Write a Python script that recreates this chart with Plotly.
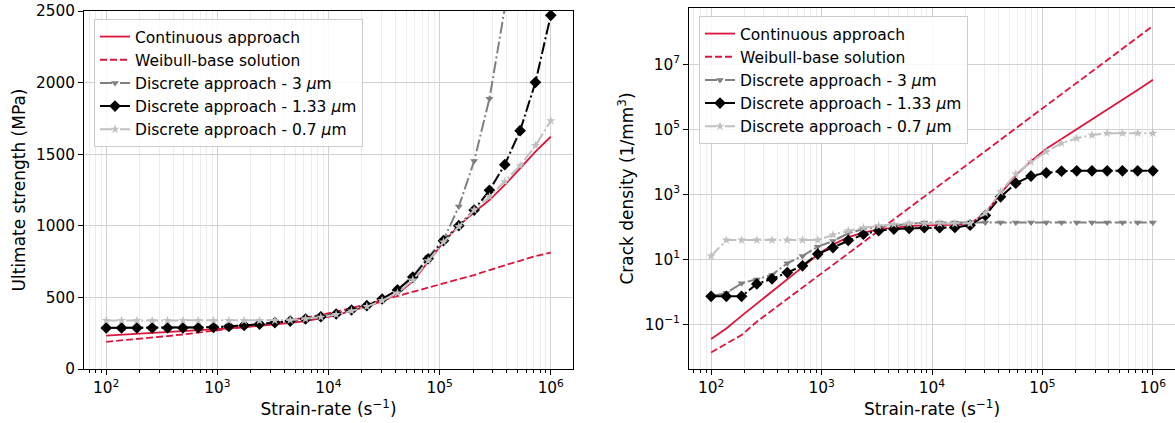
import plotly.graph_objects as go

# Strain-rate grid shared by every series (s^-1)
strain_rate = [100, 137.38, 188.74, 259.29, 356.22, 489.39, 672.34, 923.67,
               1268.96, 1743.33, 2395.03, 3290.34, 4520.35, 6210.17, 8531.68,
               11721.02, 16102.62, 22122.16, 30391.95, 41753.19, 57361.53,
               78804.63, 108263.37, 148735.21, 204335.97, 280721.62,
               385662.04, 529831.73, 727895.38, 1000000]

# Ultimate strength (MPa)
strength_continuous = [233, 239, 245, 251, 257, 263, 270, 277, 284, 292, 301,
                       311, 322, 334, 352, 374, 408, 436, 474, 524, 612, 750,
                       885, 1001, 1094, 1180, 1285, 1401, 1518, 1622]
strength_weibull = [190, 199, 209, 219, 230, 241, 253, 265, 278, 292, 306, 322,
                    340, 358, 378, 400, 424, 452, 480, 508, 538, 568, 598, 626,
                    656, 691, 724, 757, 789, 812]
strength_3um = [287, 287, 288, 289, 290, 291, 292, 294, 298, 304, 313, 324,
                335, 349, 365, 384, 412, 442, 489, 555, 648, 780, 900, 1134,
                1452, 1888, 2520, None, None, None]
strength_133um = [287, 287, 287, 287, 287, 287, 288, 291, 297, 304, 313, 324,
                  335, 349, 365, 384, 412, 442, 489, 552, 642, 770, 896, 1001,
                  1110, 1248, 1427, 1664, 2002, 2470]
strength_07um = [338, 338, 338, 338, 338, 338, 338, 338, 338, 338, 338, 339,
                 342, 350, 362, 380, 405, 436, 478, 530, 622, 755, 887, 994,
                 1110, 1203, 1308, 1420, 1560, 1734]

# Crack density (1/mm^3)
density_continuous = [0.0355, 0.0741, 0.182, 0.427, 1.0, 2.34, 5.75, 14.1,
                      28.2, 47.9, 66.1, 83.2, 95.5, 105, 110, 112, 115, 126,
                      263, 1047, 3802, 1.05e4, 2.51e4, 5.01e4, 1.02e5, 2.04e5,
                      4.07e5, 8.13e5, 1.62e6, 3.31e6]
density_weibull = [0.0135, 0.0245, 0.0468, 0.120, 0.269, 0.603, 1.35, 3.02,
                   6.76, 15.1, 33.9, 75.9, 170, 380, 851, 1905, 4266, 9550,
                   2.14e4, 4.79e4, 1.07e5, 2.40e5, 5.37e5, 1.20e6, 2.69e6,
                   6.03e6, 1.35e7, 3.02e7, 6.76e7, 1.51e8]
density_3um = [0.724, 0.912, 1.82, 2.40, 3.31, 7.59, 12.6, 24.5, 36.3, 63.1,
               85.1, 100, 112, 126, 135, 135, 135, 135, 135, 135, 135, 135,
               135, 135, 135, 135, 135, 135, 135, 135]
density_133um = [0.724, 0.724, 0.724, 1.74, 2.51, 3.89, 6.31, 14.5, 22.9,
                 38.0, 58.9, 75.9, 85.1, 89.1, 93.3, 93.3, 95.5, 112, 224,
                 832, 2188, 3631, 4571, 5129, 5248, 5248, 5248, 5248, 5248,
                 5248]
density_07um = [12.6, 38.9, 38.9, 38.9, 38.9, 38.9, 38.9, 38.9, 56.2, 75.9,
                93.3, 107, 120, 126, 126, 126, 126, 126, 263, 1202, 4169,
                1.0e4, 2.04e4, 3.72e4, 5.25e4, 6.61e4, 7.59e4, 7.59e4, 7.59e4,
                7.59e4]

# Tick positions and labels
strain_ticks = [1e2, 1e3, 1e4, 1e5, 1e6]
strain_tick_labels = ["10<sup>2</sup>", "10<sup>3</sup>", "10<sup>4</sup>",
                      "10<sup>5</sup>", "10<sup>6</sup>"]
density_ticks = [1e-1, 1e1, 1e3, 1e5, 1e7]
density_tick_labels = ["10<sup>−1</sup>", "10<sup>1</sup>", "10<sup>3</sup>",
                       "10<sup>5</sup>", "10<sup>7</sup>"]
strength_ticks = [0, 500, 1000, 1500, 2000, 2500]

series_names = ["Continuous approach", "Weibull-base solution",
                "Discrete approach - 3 <i>μ</i>m",
                "Discrete approach - 1.33 <i>μ</i>m",
                "Discrete approach - 0.7 <i>μ</i>m"]

RED = "#dc143c"
DASHDOT = "12px,3px,2px,3px"
DASHED = "7px,3px"

styles = [
    dict(mode="lines", line=dict(color=RED, width=1.8)),
    dict(mode="lines", line=dict(color=RED, width=1.8, dash=DASHED)),
    dict(mode="lines+markers", line=dict(color="#808080", width=2, dash=DASHDOT),
         marker=dict(symbol="triangle-down", size=7, color="#808080")),
    dict(mode="lines+markers", line=dict(color="black", width=2, dash=DASHDOT),
         marker=dict(symbol="diamond", size=9, color="black")),
    dict(mode="lines+markers", line=dict(color="#c0c0c0", width=2, dash=DASHDOT),
         marker=dict(symbol="star", size=7, color="#c0c0c0")),
]

left_series = [strength_continuous, strength_weibull, strength_3um,
               strength_133um, strength_07um]
right_series = [density_continuous, density_weibull, density_3um,
                density_133um, density_07um]

fig = go.Figure()
for k, (name, ys) in enumerate(zip(series_names, left_series)):
    fig.add_trace(go.Scatter(x=strain_rate, y=ys, name=name, xaxis="x",
                             yaxis="y", legend="legend", legendgroup=f"a{k}",
                             connectgaps=False, **styles[k]))
for k, (name, ys) in enumerate(zip(series_names, right_series)):
    fig.add_trace(go.Scatter(x=strain_rate, y=ys, name=name, xaxis="x2",
                             yaxis="y2", legend="legend2", legendgroup=f"b{k}",
                             **styles[k]))

W, H = 1175, 423
FONT = "DejaVu Sans"
GRID = "#d2d2d2"
MINOR_GRID = "#ececec"
TICK_FONT = dict(size=15.3, color="black", family=FONT)
TITLE_FONT = dict(size=17, color="black", family=FONT)

xaxis_common = dict(
    type="log", tickmode="array", tickvals=strain_ticks,
    ticktext=strain_tick_labels,
    ticks="outside", ticklen=5, tickwidth=1, tickcolor="black",
    showline=True, linecolor="black", linewidth=1, mirror=True,
    showgrid=True, gridcolor=GRID, gridwidth=1, zeroline=False,
    tickfont=TICK_FONT,
    minor=dict(dtick="D1", ticks="outside", ticklen=3, tickcolor="black",
               showgrid=True, gridcolor=MINOR_GRID, gridwidth=1),
    title=dict(text="Strain-rate (s<sup>−1</sup>)", font=TITLE_FONT,
               standoff=4),
    automargin=False,
)

y_bottom = 1 - 369 / H

legend_common = dict(xanchor="left", yanchor="top",
                     bgcolor="rgba(255,255,255,0.85)", bordercolor="#cccccc",
                     borderwidth=1,
                     font=dict(size=15.5, family=FONT, color="black"),
                     tracegroupgap=0, itemwidth=30)

fig.update_layout(
    width=W, height=H, margin=dict(l=0, r=0, t=0, b=0),
    paper_bgcolor="white", plot_bgcolor="white",
    font=dict(family=FONT, size=15, color="black"),
    xaxis=dict(domain=[84 / W, 573 / W], range=[1.8, 6.2], anchor="y",
               **xaxis_common),
    xaxis2=dict(domain=[689 / W, 1.0], range=[1.8, 6.2], anchor="y2",
                **xaxis_common),
    yaxis=dict(domain=[y_bottom, 1 - 11 / H], range=[0, 2500],
               tickmode="array", tickvals=strength_ticks,
               anchor="x", ticks="outside", ticklen=5, tickcolor="black",
               showline=True, linecolor="black", linewidth=1, mirror=True,
               showgrid=True, gridcolor=GRID, zeroline=False,
               tickfont=TICK_FONT,
               title=dict(text="Ultimate strength (MPa)", font=TITLE_FONT,
                          standoff=6),
               automargin=False),
    yaxis2=dict(domain=[y_bottom, 1 - 8 / H], type="log",
                range=[-2.375, 8.73], tickmode="array",
                tickvals=density_ticks, ticktext=density_tick_labels,
                anchor="x2", ticks="outside", ticklen=5, tickcolor="black",
                showline=True, linecolor="black", linewidth=1, mirror=False,
                showgrid=True, gridcolor=GRID, zeroline=False,
                tickfont=TICK_FONT,
                title=dict(text="Crack density (1/mm<sup>3</sup>)",
                           font=TITLE_FONT, standoff=6),
                automargin=False),
    legend=dict(x=94 / W, y=1 - 19 / H, **legend_common),
    legend2=dict(x=699 / W, y=1 - 16 / H, **legend_common),
)

fig.write_html("out.html")
